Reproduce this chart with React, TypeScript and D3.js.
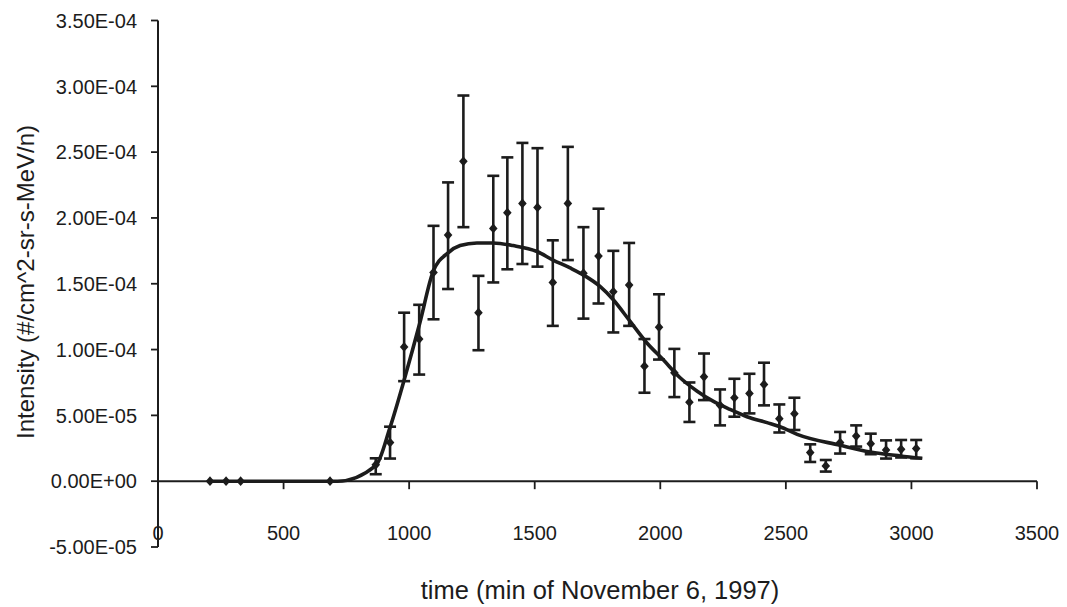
import React from "react";
import * as d3 from "d3";

// ---- data ----
const obsTime = [207, 271, 329, 685, 867, 924, 980, 1040, 1097, 1155, 1216, 1276, 1335, 1391, 1451, 1511, 1572, 1632, 1694, 1754, 1813, 1876, 1937, 1995, 2056, 2116, 2174, 2238, 2295, 2355, 2413, 2474, 2534, 2597, 2659, 2716, 2780, 2838, 2899, 2959, 3019];
const obsValue = [0, 0, 0, 0, 1.24e-5, 2.93e-5, 1.02e-4, 1.08e-4, 1.586e-4, 1.87e-4, 2.43e-4, 1.28e-4, 1.92e-4, 2.04e-4, 2.11e-4, 2.08e-4, 1.51e-4, 2.11e-4, 1.58e-4, 1.71e-4, 1.44e-4, 1.49e-4, 8.74e-5, 1.17e-4, 8.23e-5, 6.0e-5, 7.93e-5, 5.76e-5, 6.34e-5, 6.67e-5, 7.35e-5, 4.75e-5, 5.13e-5, 2.17e-5, 1.16e-5, 2.93e-5, 3.43e-5, 2.85e-5, 2.37e-5, 2.42e-5, 2.48e-5];
const obsHigh = [0, 0, 0, 0, 1.74e-5, 4.14e-5, 1.28e-4, 1.34e-4, 1.94e-4, 2.27e-4, 2.93e-4, 1.56e-4, 2.32e-4, 2.46e-4, 2.57e-4, 2.53e-4, 1.83e-4, 2.54e-4, 1.93e-4, 2.07e-4, 1.75e-4, 1.81e-4, 1.08e-4, 1.42e-4, 1.005e-4, 7.5e-5, 9.7e-5, 6.97e-5, 7.78e-5, 8.16e-5, 9.0e-5, 5.83e-5, 6.34e-5, 2.8e-5, 1.61e-5, 3.74e-5, 4.24e-5, 3.61e-5, 3.1e-5, 3.13e-5, 3.13e-5];
const obsLow = [0, 0, 0, 0, 5.3e-6, 1.72e-5, 7.6e-5, 8.1e-5, 1.23e-4, 1.46e-4, 1.93e-4, 9.95e-5, 1.51e-4, 1.61e-4, 1.65e-4, 1.63e-4, 1.18e-4, 1.68e-4, 1.235e-4, 1.35e-4, 1.13e-4, 1.18e-4, 6.72e-5, 9.24e-5, 6.39e-5, 4.5e-5, 6.16e-5, 4.24e-5, 4.9e-5, 5.15e-5, 5.76e-5, 3.7e-5, 3.89e-5, 1.46e-5, 7.3e-6, 2.1e-5, 2.63e-5, 2.05e-5, 1.72e-5, 1.8e-5, 1.74e-5];

const fitTime = [207, 685, 715, 868, 924, 984, 1043, 1095, 1155, 1203, 1270, 1334, 1414, 1509, 1573, 1641, 1700, 1760, 1812, 1880, 1947, 2011, 2079, 2147, 2210, 2278, 2345, 2425, 2477, 2545, 2716, 2836, 2955, 3043];
const fitValue = [0, 0, 0, 1.21e-5, 4.09e-5, 7.95e-5, 1.205e-4, 1.59e-4, 1.735e-4, 1.79e-4, 1.81e-4, 1.81e-4, 1.79e-4, 1.745e-4, 1.68e-4, 1.62e-4, 1.56e-4, 1.48e-4, 1.38e-4, 1.214e-4, 1.05e-4, 9.24e-5, 7.86e-5, 6.84e-5, 6.08e-5, 5.45e-5, 4.9e-5, 4.45e-5, 4.14e-5, 3.56e-5, 2.73e-5, 2.22e-5, 1.92e-5, 1.74e-5];

const xTicks = [0, 500, 1000, 1500, 2000, 2500, 3000, 3500];
const yTicks = [-5e-5, 0, 5e-5, 1e-4, 1.5e-4, 2e-4, 2.5e-4, 3e-4, 3.5e-4];

const xTitle = "time (min of November 6, 1997)";
const yTitle = "Intensity (#/cm^2-sr-s-MeV/n)";

function fmtE(v: number): string {
  if (v === 0) return "0.00E+00";
  const s = v.toExponential(2);
  const [m, e] = s.split("e");
  const sign = e[0] === "-" ? "-" : "+";
  const digits = e.replace(/[+-]/, "").padStart(2, "0");
  return `${m}E${sign}${digits}`;
}

// diamond marker, slightly wider than d3's default diamond
const diamondType = {
  draw(ctx: any, size: number) {
    const hw = Math.sqrt(size) * 0.62;
    const hh = Math.sqrt(size) * 0.7;
    ctx.moveTo(0, -hh);
    ctx.lineTo(hw, 0);
    ctx.lineTo(0, hh);
    ctx.lineTo(-hw, 0);
    ctx.closePath();
  },
};

export default function App() {
  const W = 1067;
  const H = 607;
  const x = d3.scaleLinear().domain([0, 3500]).range([158, 1037]);
  const y = d3.scaleLinear().domain([-5e-5, 3.5e-4]).range([547, 20.5]);
  const ink = "#1c1c1c";
  const font = "'Liberation Sans', Arial, sans-serif";

  const fitPts: [number, number][] = fitTime.map((t, i) => [x(t), y(fitValue[i])]);
  const fitPath = d3.line().curve(d3.curveMonotoneX)(fitPts) || "";
  const diamond = d3.symbol().type(diamondType as any).size(48)() || "";

  const y0 = y(0);
  const capW = 6;

  return (
    <svg
      width={W}
      height={H}
      style={{ position: "absolute", left: 0, top: 0, background: "#fff" }}
      fontFamily={font}
    >
      <rect x={0} y={0} width={W} height={H} fill="#fff" />
      {/* y axis */}
      <line x1={x(0)} x2={x(0)} y1={y(3.5e-4)} y2={y(-5e-5)} stroke={ink} strokeWidth={2} />
      {yTicks.map((t) => (
        <g key={`yt${t}`}>
          <line x1={x(0) - 7} x2={x(0)} y1={y(t)} y2={y(t)} stroke={ink} strokeWidth={1.8} />
          <text x={x(0) - 21} y={y(t)} dy="0.36em" textAnchor="end" fontSize={20} fill={ink}>
            {fmtE(t)}
          </text>
        </g>
      ))}
      {/* x axis at zero */}
      <line x1={x(0)} x2={x(3500)} y1={y0} y2={y0} stroke={ink} strokeWidth={2} />
      {xTicks.map((t) => (
        <g key={`xt${t}`}>
          {t > 0 && <line x1={x(t)} x2={x(t)} y1={y0} y2={y0 + 8} stroke={ink} strokeWidth={1.8} />}
          <text x={x(t)} y={533} dy="0.36em" textAnchor="middle" fontSize={20} fill={ink}>
            {t}
          </text>
        </g>
      ))}
      {/* titles */}
      <text x={600} y={590} dy="0.36em" textAnchor="middle" fontSize={25.5} fill={ink}>
        {xTitle}
      </text>
      <text
        transform={`translate(25,${282}) rotate(-90)`}
        dy="0.36em"
        textAnchor="middle"
        fontSize={24}
        fill={ink}
      >
        {yTitle}
      </text>
      {/* fit curve */}
      <path d={fitPath} fill="none" stroke={ink} strokeWidth={3.6} strokeLinejoin="round" />
      {/* error bars */}
      {obsTime.map((t, i) =>
        obsHigh[i] > obsLow[i] ? (
          <g key={`eb${i}`} stroke={ink} strokeWidth={2.6}>
            <line x1={x(t)} x2={x(t)} y1={y(obsHigh[i])} y2={y(obsLow[i])} />
            <line x1={x(t) - capW} x2={x(t) + capW} y1={y(obsHigh[i])} y2={y(obsHigh[i])} />
            <line x1={x(t) - capW} x2={x(t) + capW} y1={y(obsLow[i])} y2={y(obsLow[i])} />
          </g>
        ) : null
      )}
      {/* markers */}
      {obsTime.map((t, i) => (
        <path key={`m${i}`} d={diamond} transform={`translate(${x(t)},${y(obsValue[i])})`} fill={ink} />
      ))}
    </svg>
  );
}
